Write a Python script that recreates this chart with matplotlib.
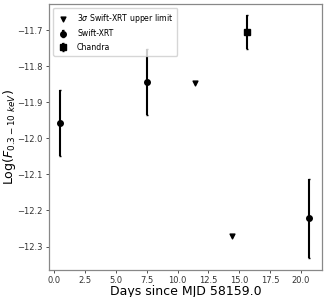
import matplotlib
matplotlib.use("Agg")
import matplotlib.pyplot as plt

# Swift-XRT detections
swift_days = [0.5, 7.5, 20.65]
swift_flux = [-11.958, -11.843, -12.222]
swift_err = [0.092, 0.091, 0.11]

# Chandra
chandra_days = [15.6]
chandra_flux = [-11.705]
chandra_err = [0.046]

# 3 sigma upper limits
ul_days = [11.4, 14.4]
ul_flux = [-11.847, -12.27]

fig = plt.figure(figsize=(3.25, 2.97), dpi=100)
ax = fig.add_axes([0.151, 0.091, 0.84, 0.896])

ax.scatter(ul_days, ul_flux, marker='v', color='black', s=12,
           label=r'3$\sigma$ Swift-XRT upper limit', zorder=3)
ax.errorbar(swift_days, swift_flux, yerr=swift_err, fmt='o', color='black',
            ms=4, elinewidth=1.5, capsize=1, label='Swift-XRT')
ax.errorbar(chandra_days, chandra_flux, yerr=chandra_err, fmt='s', color='black',
            ms=4, elinewidth=1.5, capsize=1, label='Chandra')

ax.set_xlim(-0.4, 21.7)
ax.set_ylim(-12.365, -11.627)
ax.set_xticks([0, 2.5, 5, 7.5, 10, 12.5, 15, 17.5, 20])
ax.set_yticks([-12.3, -12.2, -12.1, -12.0, -11.9, -11.8, -11.7])
ax.tick_params(labelsize=6.0, length=2.5, width=0.6, colors='#333333', pad=2)
for s in ax.spines.values():
    s.set_color('#888888')
    s.set_linewidth(0.9)

ax.set_xlabel('Days since MJD 58159.0', fontsize=9, labelpad=0)
ax.set_ylabel(r'Log($F_{0.3-10\ keV}$)', fontsize=9)
ax.yaxis.set_label_coords(-0.112, 0.5)
ax.legend(loc='upper left', fontsize=5.6, handletextpad=1.0, borderpad=0.5,
          labelspacing=0.6, handlelength=1.6, framealpha=0.8)

fig.savefig('out.png', dpi=100)
